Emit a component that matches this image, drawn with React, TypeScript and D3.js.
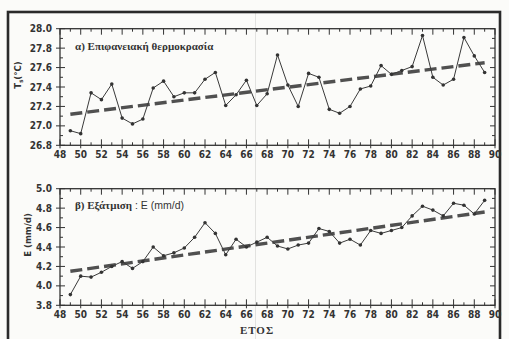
import React from "react";
import * as d3 from "d3";

// years 1949-1989 (two digit, as on the axis)
const years = [49, 50, 51, 52, 53, 54, 55, 56, 57, 58, 59, 60, 61, 62, 63, 64, 65, 66, 67, 68, 69,
  70, 71, 72, 73, 74, 75, 76, 77, 78, 79, 80, 81, 82, 83, 84, 85, 86, 87, 88, 89];

// α) surface temperature Ts (°C)
const tempValues = [26.95, 26.92, 27.34, 27.27, 27.43, 27.08, 27.02, 27.07, 27.39, 27.46, 27.30,
  27.34, 27.34, 27.48, 27.55, 27.21, 27.32, 27.47, 27.21, 27.33, 27.73, 27.42, 27.20, 27.54,
  27.50, 27.17, 27.13, 27.20, 27.38, 27.41, 27.62, 27.53, 27.57, 27.61, 27.93, 27.50, 27.42,
  27.48, 27.91, 27.72, 27.55];

// β) evaporation E (mm/d)
const evapValues = [3.91, 4.10, 4.09, 4.14, 4.20, 4.25, 4.18, 4.25, 4.40, 4.31, 4.34, 4.39, 4.50,
  4.65, 4.54, 4.32, 4.48, 4.40, 4.45, 4.50, 4.41, 4.38, 4.42, 4.44, 4.59, 4.56, 4.44, 4.48, 4.42,
  4.57, 4.54, 4.57, 4.60, 4.72, 4.82, 4.78, 4.72, 4.85, 4.83, 4.74, 4.88];

// linear trends (end points)
const trendYears = [49, 89];
const tempTrend = [27.12, 27.65];
const evapTrend = [4.15, 4.76];

const tempTicks = [26.8, 27.0, 27.2, 27.4, 27.6, 27.8, 28.0];
const evapTicks = [3.8, 4.0, 4.2, 4.4, 4.6, 4.8, 5.0];
const xTicks = [48, 50, 52, 54, 56, 58, 60, 62, 64, 66, 68, 70, 72, 74, 76, 78, 80, 82, 84, 86, 88, 90];

const W = 509;
const H = 339;
const plotLeft = 60;
const plotRight = 495;
const ink = "#333";
const tickFont = "'Liberation Sans Narrow', 'DejaVu Sans Condensed', 'Liberation Sans', sans-serif";
const titleFont = "'Liberation Serif', 'DejaVu Serif', serif";

const x = d3.scaleLinear().domain([48, 90]).range([plotLeft, plotRight]);

type PanelProps = {
  top: number;
  bottom: number;
  values: number[];
  trend: number[];
  yTicks: number[];
  title: React.ReactNode;
  titleY: number;
  yLabel: React.ReactNode;
  yLabelX: number;
};

const Panel = ({ top, bottom, values, trend, yTicks, title, titleY, yLabel, yLabelX }: PanelProps) => {
  const lo = yTicks[0];
  const hi = yTicks[yTicks.length - 1];
  const y = d3.scaleLinear().domain([lo, hi]).range([bottom, top]);
  const line = d3.line<number>().x((_, i) => x(years[i])).y(d => y(d));
  const trendLine = d3.line<number>().x((_, i) => x(trendYears[i])).y(d => y(d));
  const minorY = d3.range(Math.round(lo * 10), Math.round(hi * 10) + 1).map(v => v / 10);
  const minorX = d3.range(48, 91);

  return (
    <g>
      {/* frame */}
      <rect x={plotLeft} y={top} width={plotRight - plotLeft} height={bottom - top}
        fill="none" stroke={ink} strokeWidth={1.3} />

      {/* x ticks, top and bottom, inward */}
      {minorX.map(t => {
        const major = t % 2 === 0;
        const len = major ? 6 : 3;
        return (
          <g key={"x" + t} stroke={ink} strokeWidth={1}>
            <line x1={x(t)} x2={x(t)} y1={bottom} y2={bottom - len} />
            {major && <line x1={x(t)} x2={x(t)} y1={bottom} y2={bottom + 3} />}
            <line x1={x(t)} x2={x(t)} y1={top} y2={top + len} />
          </g>
        );
      })}

      {/* y ticks, left and right */}
      {minorY.map((t, i) => {
        const major = i % 2 === 0;
        const len = major ? 5 : 3;
        return (
          <g key={"y" + t} stroke={ink} strokeWidth={1}>
            <line x1={plotLeft} x2={plotLeft + len} y1={y(t)} y2={y(t)} />
            {major && <line x1={plotLeft - 4} x2={plotLeft} y1={y(t)} y2={y(t)} />}
            <line x1={plotRight} x2={plotRight - len} y1={y(t)} y2={y(t)} />
          </g>
        );
      })}

      {/* tick labels */}
      {yTicks.map(t => (
        <text key={"yl" + t} x={plotLeft - 8} y={y(t)} dy="0.35em" textAnchor="end"
          fontFamily={tickFont} fontWeight="bold" fontSize={10} fill={ink}>
          {t.toFixed(1)}
        </text>
      ))}
      {xTicks.map(t => (
        <text key={"xl" + t} x={x(t)} y={bottom + 13} textAnchor="middle"
          fontFamily={tickFont} fontWeight="bold" fontSize={10} fill={ink}>
          {t}
        </text>
      ))}

      {/* trend */}
      <path d={trendLine(trend) || ""} fill="none" stroke="#505050" strokeWidth={3.4}
        strokeDasharray="12 5" />

      {/* series */}
      <path d={line(values) || ""} fill="none" stroke="#3a3a3a" strokeWidth={1} />
      {values.map((v, i) => (
        <circle key={"p" + i} cx={x(years[i])} cy={y(v)} r={1.8} fill="#333" />
      ))}

      <text x={75} y={titleY} fontFamily={titleFont} fontWeight="bold" fontSize={11} fill={ink}>
        {title}
      </text>
      <text transform={`translate(${yLabelX},${(top + bottom) / 2 - 12}) rotate(-90)`}
        textAnchor="middle" fontFamily={tickFont} fontWeight="bold" fontSize={9.5} fill={ink}>
        {yLabel}
      </text>
    </g>
  );
};

export default function App() {
  return (
    <svg width={W} height={H} style={{ position: "absolute", left: 0, top: 0, background: "#fbfbf9" }}>
      {/* scan crease */}
      <line x1={255.5} x2={255.5} y1={12} y2={H} stroke="#e2e2e0" strokeWidth={1} />
      {/* outer frame */}
      <rect x={8} y={12} width={492} height={H} fill="none" stroke="#2a2a2a" strokeWidth={2.6} />

      <Panel top={28.7} bottom={145.3} values={tempValues} trend={tempTrend} yTicks={tempTicks}
        titleY={50}
        title={"α) Επιφανειακή θερμοκρασία"}
        yLabel={<>T<tspan fontSize={6} dy={2}>s</tspan><tspan dy={-2}>(°C)</tspan></>}
        yLabelX={21} />

      <Panel top={188.7} bottom={305.3} values={evapValues} trend={evapTrend} yTicks={evapTicks}
        titleY={209}
        title={<>β) Εξάτμιση<tspan fontFamily="'Liberation Sans', sans-serif" fontWeight="normal"
          fontSize={10.5}> : E (mm/d)</tspan></>}
        yLabel={"E (mm/d)"}
        yLabelX={31} />

      <text x={257} y={334} textAnchor="middle" fontFamily={titleFont} fontWeight="bold"
        fontSize={11} letterSpacing={1} fill={ink}>ΕΤΟΣ</text>
    </svg>
  );
}
